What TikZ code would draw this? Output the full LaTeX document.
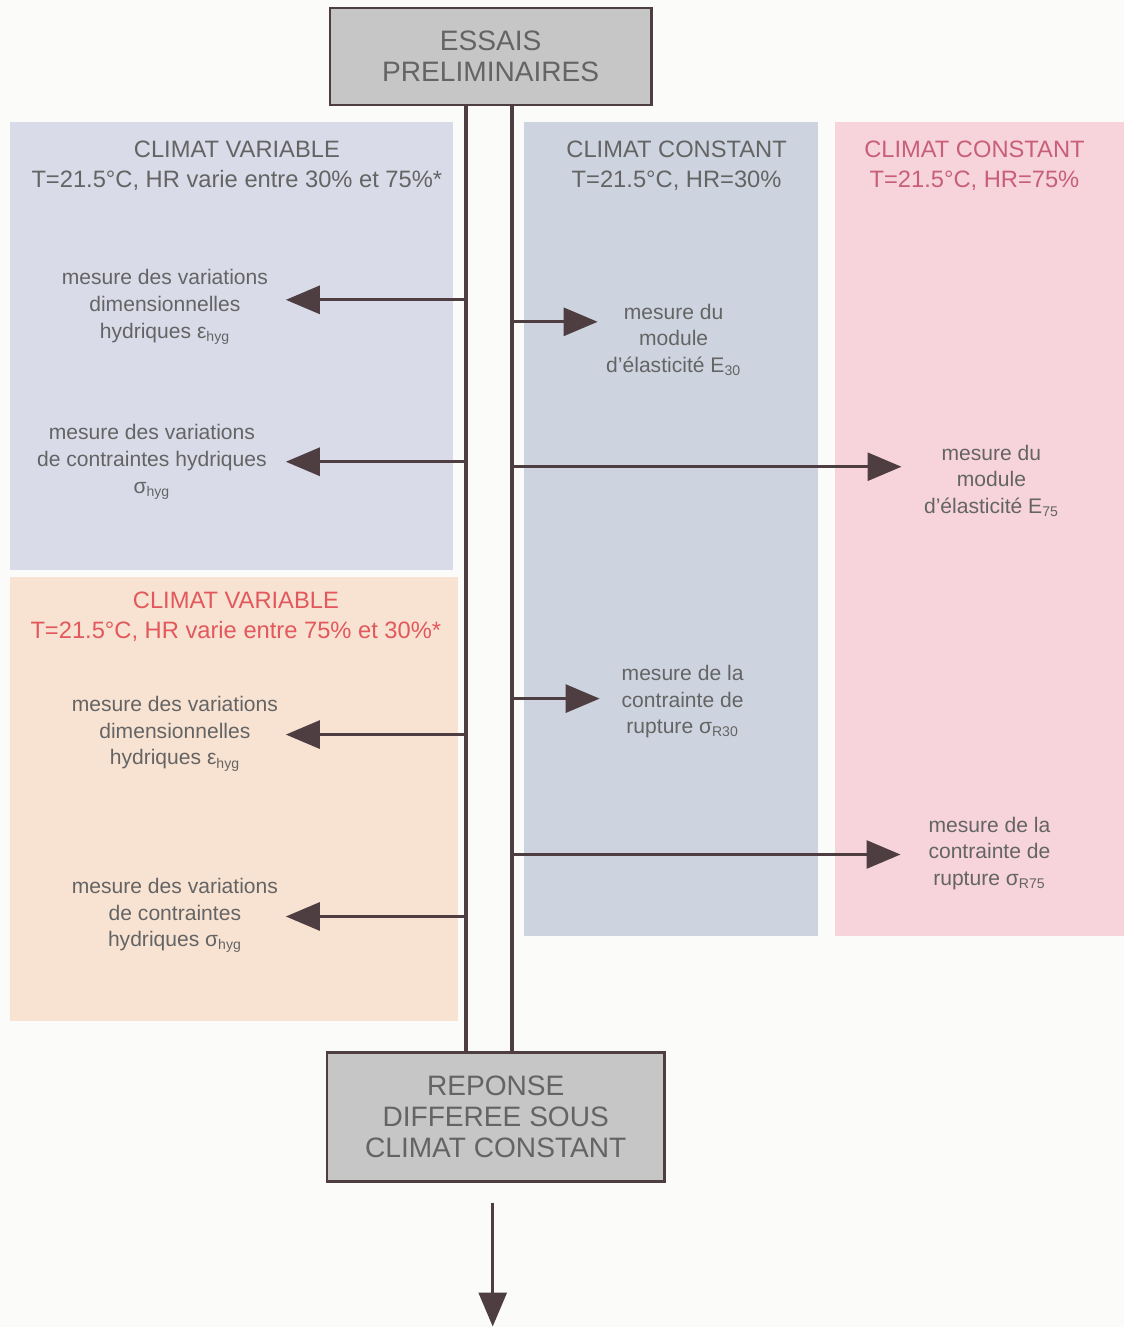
\documentclass[tikz,border=0pt]{standalone}
\usepackage{fontspec}
\setmainfont{Liberation Sans}
\usetikzlibrary{arrows.meta,positioning}

\definecolor{paper}{RGB}{251,251,249}
\definecolor{lavande}{RGB}{218,219,233}
\definecolor{bleugris}{RGB}{206,212,223}
\definecolor{rose}{RGB}{247,212,220}
\definecolor{peche}{RGB}{248,227,211}
\definecolor{boite}{RGB}{198,198,198}
\definecolor{trait}{RGB}{78,62,66}
\definecolor{texte}{RGB}{100,100,100}
\definecolor{rouge}{RGB}{226,88,92}
\definecolor{mauve}{RGB}{200,95,120}

\begin{document}
\begin{tikzpicture}[
    x=0.02cm, y=-0.02cm,
    box/.style={rectangle, draw=trait, line width=1.5pt, fill=boite, text=texte, align=center, font=\fontsize{16}{17.8}\selectfont},
    head/.style={align=center, text=texte, inner sep=0pt, font=\fontsize{13.5}{17}\selectfont},
    mesure/.style={align=center, text=texte, inner sep=0pt, font=\fontsize{12}{15.2}\selectfont},
    spine/.style={draw=trait, line width=2.4pt},
    arrow/.style={draw=trait, line width=1.7pt, -{Triangle[length=0.68cm, width=0.56cm]}}
]

% Background and climate panels
\fill[paper] (0,0) rectangle (1125,1328);
\fill[lavande] (10,122) rectangle (453,570);
\fill[peche] (10,577) rectangle (458,1022);
\fill[bleugris] (524,122) rectangle (818,937);
\fill[rose] (835,122) rectangle (1125,937);

% Start and end boxes
\node[box, minimum width=6.44cm, minimum height=1.94cm] (essais) at (491,56.5) {ESSAIS\\PRELIMINAIRES};
\node[box, minimum width=6.76cm, minimum height=2.58cm] (reponse) at (496,1117.5) {REPONSE\\DIFFEREE SOUS\\CLIMAT CONSTANT};

% Panel headers
\node[head] (var1) at (237,166) {CLIMAT VARIABLE\\T=21.5°C, HR varie entre 30\% et 75\%*};
\node[head] (cst30) at (677,166) {CLIMAT CONSTANT\\T=21.5°C, HR=30\%};
\node[head, text=mauve] (cst75) at (975,166) {CLIMAT CONSTANT\\T=21.5°C, HR=75\%};
\node[head, text=rouge] (var2) at (236,617) {CLIMAT VARIABLE\\T=21.5°C, HR varie entre 75\% et 30\%*};

% Measurements
\node[mesure] (dim1) at (165,307) {mesure des variations\\dimensionnelles\\hydriques ε\textsubscript{hyg}};
\node[mesure] (con1) at (152,462) {mesure des variations\\de contraintes hydriques\\σ\textsubscript{hyg}};
\node[mesure] (dim2) at (175,734) {mesure des variations\\dimensionnelles\\hydriques ε\textsubscript{hyg}};
\node[mesure] (con2) at (175,916) {mesure des variations\\de contraintes\\hydriques σ\textsubscript{hyg}};
\node[mesure] (mod30) at (674,340) {mesure du\\module\\d'élasticité E\textsubscript{30}};
\node[mesure] (mod75) at (992,481) {mesure du\\module\\d'élasticité E\textsubscript{75}};
\node[mesure] (rup30) at (683,702) {mesure de la\\contrainte de\\rupture σ\textsubscript{R30}};
\node[mesure] (rup75) at (990,854) {mesure de la\\contrainte de\\rupture σ\textsubscript{R75}};

% Spine
\coordinate (colG) at (466,0);
\coordinate (colD) at (512,0);
\draw[spine] (essais.south -| colG) -- (reponse.north -| colG);
\draw[spine] (essais.south -| colD) -- (reponse.north -| colD);

% Arrow tips
\coordinate (pdim1) at (286,300);
\coordinate (pcon1) at (286,462);
\coordinate (pdim2) at (286,735);
\coordinate (pcon2) at (286,917);
\coordinate (pmod30) at (598,322);
\coordinate (pmod75) at (902,467);
\coordinate (prup30) at (600,699);
\coordinate (prup75) at (901,855);

% Arrows
\draw[arrow] (pdim1 -| colG) -- (pdim1);
\draw[arrow] (pcon1 -| colG) -- (pcon1);
\draw[arrow] (pdim2 -| colG) -- (pdim2);
\draw[arrow] (pcon2 -| colG) -- (pcon2);
\draw[arrow] (pmod30 -| colD) -- (pmod30);
\draw[arrow] (pmod75 -| colD) -- (pmod75);
\draw[arrow] (prup30 -| colD) -- (prup30);
\draw[arrow] (prup75 -| colD) -- (prup75);
\draw[arrow] ([xshift=-0.06cm, yshift=-0.4cm]reponse.south) -- ([xshift=-0.06cm, yshift=-2.88cm]reponse.south);

\end{tikzpicture}
\end{document}
